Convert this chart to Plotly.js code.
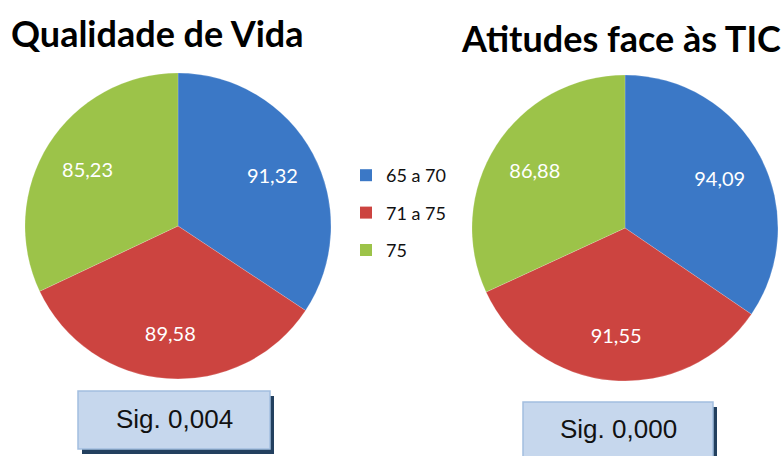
<!DOCTYPE html>
<html>
<head>
<meta charset="utf-8">
<script src="https://cdn.plot.ly/plotly-3.0.1.min.js"></script>
<style>html,body{margin:0;padding:0;background:#fff;}#chart{width:784px;height:456px;}</style>
</head>
<body>
<div id="chart"></div>
<script>
var categories = ['65 a 70', '71 a 75', '75'];
var qualidadeValues = [91.32, 89.58, 85.23];
var atitudesValues = [94.09, 91.55, 86.88];
var chartTitles = ['Qualidade de Vida', 'Atitudes face às TIC'];
var sigLabels = ['Sig. 0,004', 'Sig. 0,000'];
var sliceColors = ['#3B78C6', '#CC4440', '#9CC349'];

var W = 784, H = 456;
function px(x) { return x / W; }
function py(y) { return 1 - y / H; }

var domains = [
  {x: [px(25), px(331)], y: [py(379), py(73)]},
  {x: [px(472), px(778)], y: [py(381), py(75)]}
];
var valueSets = [qualidadeValues, atitudesValues];

var traces = [];
// filled pies (no text)
valueSets.forEach(function (vals, i) {
  traces.push({
    type: 'pie', labels: categories, values: vals, sort: false,
    direction: 'clockwise', rotation: 0, domain: domains[i],
    textinfo: 'none', showlegend: false, hoverinfo: 'label+value',
    marker: {colors: sliceColors, line: {color: 'rgba(255,255,255,0.35)', width: 0.5}}
  });
});
// transparent ring overlay that carries the value labels
valueSets.forEach(function (vals, i) {
  traces.push({
    type: 'pie', labels: categories, values: vals, sort: false,
    direction: 'clockwise', rotation: 0, domain: domains[i], hole: 0.4,
    texttemplate: '%{value:.2f}', textposition: 'inside',
    insidetextorientation: 'horizontal',
    textfont: {family: 'Lato, "Open Sans", sans-serif', size: 20, color: '#ffffff'},
    showlegend: false, hoverinfo: 'skip',
    marker: {colors: ['rgba(0,0,0,0)', 'rgba(0,0,0,0)', 'rgba(0,0,0,0)'], line: {width: 0}}
  });
});

categories.forEach(function (c, i) {
  traces.push({
    type: 'scatter', mode: 'markers', x: [null], y: [null],
    name: c, legendgroup: 'g' + i, showlegend: true,
    marker: {symbol: 'square', size: 12, color: sliceColors[i]},
    hoverinfo: 'skip'
  });
});

var shapes = [];
var annotations = [];
var boxes = [
  {x0: 78, x1: 270, y0: 391, y1: 449, ty: 419},
  {x0: 523, x1: 713, y0: 402, y1: 462, ty: 429}
];
boxes.forEach(function (b, i) {
  shapes.push({type: 'rect', xref: 'paper', yref: 'paper',
    x0: px(b.x0 + 4), x1: px(b.x1 + 4), y0: py(b.y1 + 5), y1: py(b.y0 + 5),
    fillcolor: '#23405F', line: {width: 0}});
  shapes.push({type: 'rect', xref: 'paper', yref: 'paper',
    x0: px(b.x0), x1: px(b.x1), y0: py(b.y1), y1: py(b.y0),
    fillcolor: '#C6D7ED', line: {color: '#A3BEDF', width: 1.5}});
  annotations.push({xref: 'paper', yref: 'paper', x: px((b.x0 + b.x1) / 2), y: py(b.ty),
    xanchor: 'center', yanchor: 'middle', showarrow: false, text: sigLabels[i],
    font: {family: 'Liberation Sans, Arial, sans-serif', size: 26, color: '#111111'}});
});

annotations.push({xref: 'paper', yref: 'paper', x: px(157), y: py(33), xanchor: 'center', yanchor: 'middle',
  showarrow: false, text: '<b>' + chartTitles[0] + '</b>',
  font: {family: 'Lato, "Open Sans", sans-serif', size: 36, color: '#000000'}});
annotations.push({xref: 'paper', yref: 'paper', x: px(621), y: py(38), xanchor: 'center', yanchor: 'middle',
  showarrow: false, text: '<b>' + chartTitles[1] + '</b>',
  font: {family: 'Lato, "Open Sans", sans-serif', size: 36, color: '#000000'}});

var layout = {
  width: W, height: H,
  margin: {l: 0, r: 0, t: 0, b: 0},
  paper_bgcolor: '#ffffff', plot_bgcolor: '#ffffff',
  separators: ',.',
  xaxis: {visible: false}, yaxis: {visible: false},
  showlegend: true,
  legend: {x: px(346), y: py(157), xanchor: 'left', yanchor: 'top',
    traceorder: 'grouped', tracegroupgap: 11,
    font: {family: 'Lato, "Open Sans", sans-serif', size: 18, color: '#111111'},
    bgcolor: 'rgba(0,0,0,0)'},
  shapes: shapes,
  annotations: annotations
};

Plotly.newPlot('chart', traces, layout, {displayModeBar: false, staticPlot: true});
</script>
</body>
</html>
